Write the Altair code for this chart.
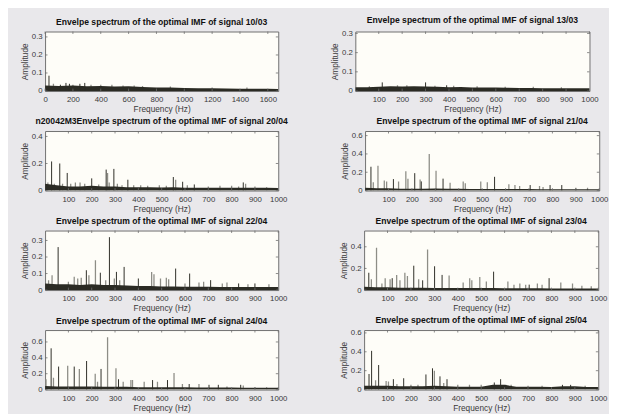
import altair as alt
import pandas as pd

# ---------------- data ----------------
TITLES = [
    "Envelpe spectrum of the optimal IMF of signal 10/03",
    "Envelpe spectrum of the optimal IMF of signal 13/03",
    "n20042M3Envelpe spectrum of the optimal IMF of signal 20/04",
    "Envelpe spectrum of the optimal IMF of signal 21/04",
    "Envelpe spectrum of the optimal IMF of signal 22/04",
    "Envelpe spectrum of the optimal IMF of signal 23/04",
    "Envelpe spectrum of the optimal IMF of signal 24/04",
    "Envelpe spectrum of the optimal IMF of signal 25/04",
]

X_TICKS_P1 = [0, 200, 400, 600, 800, 1000, 1200, 1400, 1600]
X_TICKS = [100, 200, 300, 400, 500, 600, 700, 800, 900, 1000]
Y_TICKS_01 = [0, 0.1, 0.2, 0.3]
Y_TICKS_02 = [0, 0.2, 0.4]
Y_TICKS_06 = [0, 0.2, 0.4, 0.6]

X_MAX_P1 = 1675
X_MAX = 1000
Y_MAX = [0.33, 0.31, 0.44, 0.65, 0.36, 0.55, 0.75, 0.63]

# noise-floor sample frequencies
FLOOR_F_P1 = [0, 100, 200, 300, 400, 500, 600, 700, 800, 900, 1000, 1100, 1200,
              1300, 1400, 1500, 1600, 1675]
FLOOR_F = [0, 50, 100, 150, 200, 250, 300, 350, 400, 450, 500, 550, 600, 650,
           700, 750, 800, 850, 900, 950, 1000]

# noise-floor levels
P1_FLOOR = [0.03, 0.028, 0.03, 0.027, 0.028, 0.025, 0.026, 0.022, 0.02, 0.019,
            0.017, 0.016, 0.015, 0.014, 0.013, 0.012, 0.012, 0.011]
P2_FLOOR = [0.02, 0.02, 0.022, 0.025, 0.024, 0.025, 0.024, 0.022, 0.02, 0.021,
            0.019, 0.018, 0.018, 0.017, 0.016, 0.016, 0.015, 0.015, 0.014, 0.014, 0.014]
P3_FLOOR = [0.05, 0.04, 0.03, 0.03, 0.035, 0.03, 0.03, 0.025, 0.025, 0.025, 0.022,
            0.025, 0.02, 0.02, 0.02, 0.02, 0.02, 0.02, 0.02, 0.02, 0.018]
P4_FLOOR = [0.03, 0.025, 0.025, 0.02, 0.02, 0.02, 0.022, 0.02, 0.02, 0.018, 0.018,
            0.018, 0.016, 0.016, 0.016, 0.015, 0.015, 0.015, 0.015, 0.015, 0.015]
P5_FLOOR = [0.04, 0.035, 0.035, 0.03, 0.035, 0.03, 0.03, 0.028, 0.025, 0.025, 0.022,
            0.022, 0.02, 0.02, 0.02, 0.018, 0.018, 0.018, 0.018, 0.018, 0.018]
P6_FLOOR = [0.03, 0.025, 0.025, 0.022, 0.022, 0.022, 0.02, 0.02, 0.02, 0.018, 0.018,
            0.018, 0.016, 0.016, 0.016, 0.016, 0.015, 0.015, 0.015, 0.015, 0.015]
P7_FLOOR = [0.045, 0.04, 0.04, 0.04, 0.04, 0.035, 0.035, 0.035, 0.03, 0.03, 0.03,
            0.028, 0.028, 0.025, 0.025, 0.025, 0.025, 0.022, 0.022, 0.022, 0.022]
P8_FLOOR = [0.04, 0.04, 0.04, 0.035, 0.035, 0.035, 0.04, 0.035, 0.03, 0.03, 0.03,
            0.05, 0.05, 0.03, 0.03, 0.03, 0.028, 0.035, 0.035, 0.028, 0.028]

# strong (dark) and faint (grey) spectral lines: frequency, amplitude
P1_DARK_F = [28, 110, 150, 175, 250, 285]
P1_DARK_A = [0.085, 0.035, 0.045, 0.04, 0.04, 0.045]
P1_LIGHT_F = [60, 200, 330, 400, 480, 560, 640, 700, 900, 1200, 1450]
P1_LIGHT_A = [0.04, 0.035, 0.035, 0.035, 0.035, 0.03, 0.03, 0.028, 0.025, 0.02, 0.02]

P2_DARK_F = [115, 300, 390]
P2_DARK_A = [0.045, 0.045, 0.03]
P2_LIGHT_F = [60, 180, 220, 340, 420, 520, 640, 760, 880]
P2_LIGHT_A = [0.025, 0.03, 0.03, 0.028, 0.028, 0.025, 0.022, 0.022, 0.02]

P3_DARK_F = [28, 63, 95, 200, 262, 295, 355, 550, 590, 640, 850]
P3_DARK_A = [0.215, 0.2, 0.13, 0.09, 0.155, 0.16, 0.08, 0.1, 0.065, 0.045, 0.06]
P3_LIGHT_F = [12, 40, 75, 110, 130, 150, 170, 230, 268, 275, 310, 330, 380, 410, 440,
              490, 520, 560, 610, 700, 750, 800, 830, 860, 900, 950]
P3_LIGHT_A = [0.06, 0.05, 0.05, 0.05, 0.06, 0.06, 0.05, 0.045, 0.13, 0.06, 0.05, 0.04,
              0.04, 0.04, 0.035, 0.04, 0.035, 0.08, 0.04, 0.03, 0.035, 0.035, 0.03,
              0.05, 0.03, 0.025]

P4_DARK_F = [25, 121, 212, 240, 333, 553, 705, 790, 840]
P4_DARK_A = [0.26, 0.125, 0.19, 0.1, 0.13, 0.15, 0.06, 0.06, 0.06]
P4_LIGHT_F = [35, 55, 82, 92, 143, 174, 183, 235, 274, 303, 363, 419, 428, 494, 522,
              614, 640, 660, 745, 760, 900, 950]
P4_LIGHT_A = [0.09, 0.27, 0.11, 0.1, 0.1, 0.21, 0.13, 0.12, 0.4, 0.215, 0.085, 0.1,
              0.08, 0.1, 0.09, 0.07, 0.06, 0.05, 0.05, 0.04, 0.03, 0.03]

P5_DARK_F = [56, 177, 237, 276, 306, 339, 400, 560, 620, 710, 830, 900]
P5_DARK_A = [0.26, 0.12, 0.105, 0.32, 0.11, 0.14, 0.07, 0.13, 0.1, 0.06, 0.04, 0.04]
P5_LIGHT_F = [15, 30, 100, 125, 140, 155, 188, 216, 260, 297, 320, 457, 467, 495, 520,
              530, 600, 660, 680, 760, 780, 870, 960]
P5_LIGHT_A = [0.06, 0.09, 0.05, 0.08, 0.07, 0.075, 0.09, 0.18, 0.06, 0.07, 0.06, 0.11,
              0.095, 0.07, 0.075, 0.065, 0.04, 0.045, 0.05, 0.04, 0.045, 0.035, 0.035]

P6_DARK_F = [20, 120, 212, 250, 301, 333, 553, 705, 790]
P6_DARK_A = [0.16, 0.11, 0.225, 0.09, 0.22, 0.14, 0.17, 0.05, 0.11]
P6_LIGHT_F = [31, 53, 76, 90, 111, 139, 153, 174, 185, 233, 271, 363, 423, 451, 460,
              494, 522, 614, 640, 665, 690, 740, 760, 840, 890, 930, 970]
P6_LIGHT_A = [0.1, 0.39, 0.06, 0.11, 0.1, 0.14, 0.09, 0.16, 0.13, 0.1, 0.375, 0.135,
              0.07, 0.11, 0.09, 0.12, 0.08, 0.08, 0.05, 0.06, 0.05, 0.06, 0.05, 0.07,
              0.06, 0.04, 0.035]

P7_DARK_F = [26, 58, 125, 178, 240, 315, 461, 525, 618, 703, 743, 839]
P7_DARK_A = [0.52, 0.29, 0.29, 0.36, 0.26, 0.13, 0.12, 0.12, 0.07, 0.06, 0.06, 0.06]
P7_LIGHT_F = [4, 36, 97, 147, 215, 225, 268, 304, 335, 368, 375, 425, 482, 553, 589,
              660, 780, 850, 900, 950]
P7_LIGHT_A = [0.13, 0.15, 0.3, 0.26, 0.2, 0.1, 0.66, 0.27, 0.1, 0.12, 0.12, 0.1, 0.1,
              0.21, 0.07, 0.07, 0.04, 0.05, 0.03, 0.03]

P8_DARK_F = [21, 32, 62, 125, 169, 264, 292, 324, 354, 556, 583, 847, 882]
P8_DARK_A = [0.165, 0.41, 0.26, 0.11, 0.12, 0.16, 0.225, 0.14, 0.11, 0.075, 0.11,
             0.05, 0.05]
P8_LIGHT_F = [49, 94, 104, 140, 200, 230, 300, 340, 400, 450, 500, 605, 628, 700, 760,
              944]
P8_LIGHT_A = [0.1, 0.09, 0.085, 0.06, 0.05, 0.05, 0.2, 0.07, 0.05, 0.05, 0.05, 0.05,
              0.05, 0.04, 0.04, 0.04]

# ---------------- styling ----------------
BG = "#e9e8eb"
PLOT_BG = "#fefdf8"
DARK = "#2b2b24"
LIGHT = "#8d8d86"
TICK = "#6e6e6e"
FONT = "Liberation Sans"
TEXT = "#3a3a3a"
PANEL_H = 61
TICK_LEN = 2.5


def panel(title, dark_f, dark_a, light_f, light_a, floor_f, floor_a,
          x_max, x_ticks, y_max, y_ticks, w):
    floor = pd.DataFrame({"f": floor_f, "a": floor_a})
    dark = pd.DataFrame({"f": dark_f, "a": dark_a})
    light = pd.DataFrame({"f": light_f, "a": light_a})
    xt = pd.DataFrame({"f": x_ticks})
    yt = pd.DataFrame({"a": y_ticks})
    x = alt.X("f:Q", scale=alt.Scale(domain=[0, x_max], nice=False, zero=False),
              axis=alt.Axis(values=x_ticks, title="Frequency (Hz)", format="d",
                            labelFlush=False, labelOverlap=False))
    y = alt.Y("a:Q", scale=alt.Scale(domain=[0, y_max], nice=False),
              axis=alt.Axis(values=y_ticks, title="Amplitude", format="~g",
                            labelFlush=False, labelOverlap=False))
    light_rules = alt.Chart(light).mark_rule(color=LIGHT, strokeWidth=1.3, clip=True).encode(
        x=x, y=y, y2=alt.datum(0))
    dark_rules = alt.Chart(dark).mark_rule(color=DARK, strokeWidth=1, clip=True).encode(
        x=x, y=y, y2=alt.datum(0))
    area = alt.Chart(floor).mark_area(color=DARK, clip=True).encode(x=x, y=y)
    # inward MATLAB-style ticks on all four sides
    xt_bottom = alt.Chart(xt).mark_rule(color=TICK, strokeWidth=0.8).encode(
        x=x, y=alt.value(PANEL_H), y2=alt.value(PANEL_H - TICK_LEN))
    xt_top = alt.Chart(xt).mark_rule(color=TICK, strokeWidth=0.8).encode(
        x=x, y=alt.value(0), y2=alt.value(TICK_LEN))
    yt_left = alt.Chart(yt).mark_rule(color=TICK, strokeWidth=0.8).encode(
        y=y, x=alt.value(0), x2=alt.value(TICK_LEN))
    yt_right = alt.Chart(yt).mark_rule(color=TICK, strokeWidth=0.8).encode(
        y=y, x=alt.value(w), x2=alt.value(w - TICK_LEN))
    return alt.layer(light_rules, area, dark_rules, xt_bottom, xt_top, yt_left,
                     yt_right).properties(title=title, width=w, height=PANEL_H)


panels = [
    panel(TITLES[0], P1_DARK_F, P1_DARK_A, P1_LIGHT_F, P1_LIGHT_A, FLOOR_F_P1, P1_FLOOR,
          X_MAX_P1, X_TICKS_P1, Y_MAX[0], Y_TICKS_01, 239),
    panel(TITLES[1], P2_DARK_F, P2_DARK_A, P2_LIGHT_F, P2_LIGHT_A, FLOOR_F, P2_FLOOR,
          X_MAX, X_TICKS, Y_MAX[1], Y_TICKS_01, 240),
    panel(TITLES[2], P3_DARK_F, P3_DARK_A, P3_LIGHT_F, P3_LIGHT_A, FLOOR_F, P3_FLOOR,
          X_MAX, X_TICKS, Y_MAX[2], Y_TICKS_02, 239),
    panel(TITLES[3], P4_DARK_F, P4_DARK_A, P4_LIGHT_F, P4_LIGHT_A, FLOOR_F, P4_FLOOR,
          X_MAX, X_TICKS, Y_MAX[3], Y_TICKS_06, 240),
    panel(TITLES[4], P5_DARK_F, P5_DARK_A, P5_LIGHT_F, P5_LIGHT_A, FLOOR_F, P5_FLOOR,
          X_MAX, X_TICKS, Y_MAX[4], Y_TICKS_01, 239),
    panel(TITLES[5], P6_DARK_F, P6_DARK_A, P6_LIGHT_F, P6_LIGHT_A, FLOOR_F, P6_FLOOR,
          X_MAX, X_TICKS, Y_MAX[5], Y_TICKS_02, 240),
    panel(TITLES[6], P7_DARK_F, P7_DARK_A, P7_LIGHT_F, P7_LIGHT_A, FLOOR_F, P7_FLOOR,
          X_MAX, X_TICKS, Y_MAX[6], Y_TICKS_06, 239),
    panel(TITLES[7], P8_DARK_F, P8_DARK_A, P8_LIGHT_F, P8_LIGHT_A, FLOOR_F, P8_FLOOR,
          X_MAX, X_TICKS, Y_MAX[7], Y_TICKS_06, 240),
]

rows = [alt.hconcat(panels[i], panels[i + 1], spacing=52) for i in range(0, 8, 2)]

chart = alt.vconcat(*rows, spacing=3).properties(
    padding={"left": 12, "top": 3, "right": 0, "bottom": 0}
).configure(background=BG).configure_view(
    fill=PLOT_BG, stroke="#6e6e6e", strokeWidth=1
).configure_axis(
    domain=False, ticks=False, grid=False,
    labelFont=FONT, labelFontSize=8, labelColor=TEXT,
    titleFont=FONT, titleFontSize=8.5, titleFontWeight="normal", titleColor=TEXT,
).configure_axisX(
    labelPadding=5, titlePadding=1, minExtent=13, maxExtent=13
).configure_axisY(
    labelPadding=3, titlePadding=2, minExtent=14, maxExtent=14
).configure_title(
    font=FONT, fontSize=8.8, fontWeight="bold", color="#111111", offset=4.5,
    anchor="middle"
)

chart.save("out.html", embed_options={"renderer": "svg", "actions": False})
